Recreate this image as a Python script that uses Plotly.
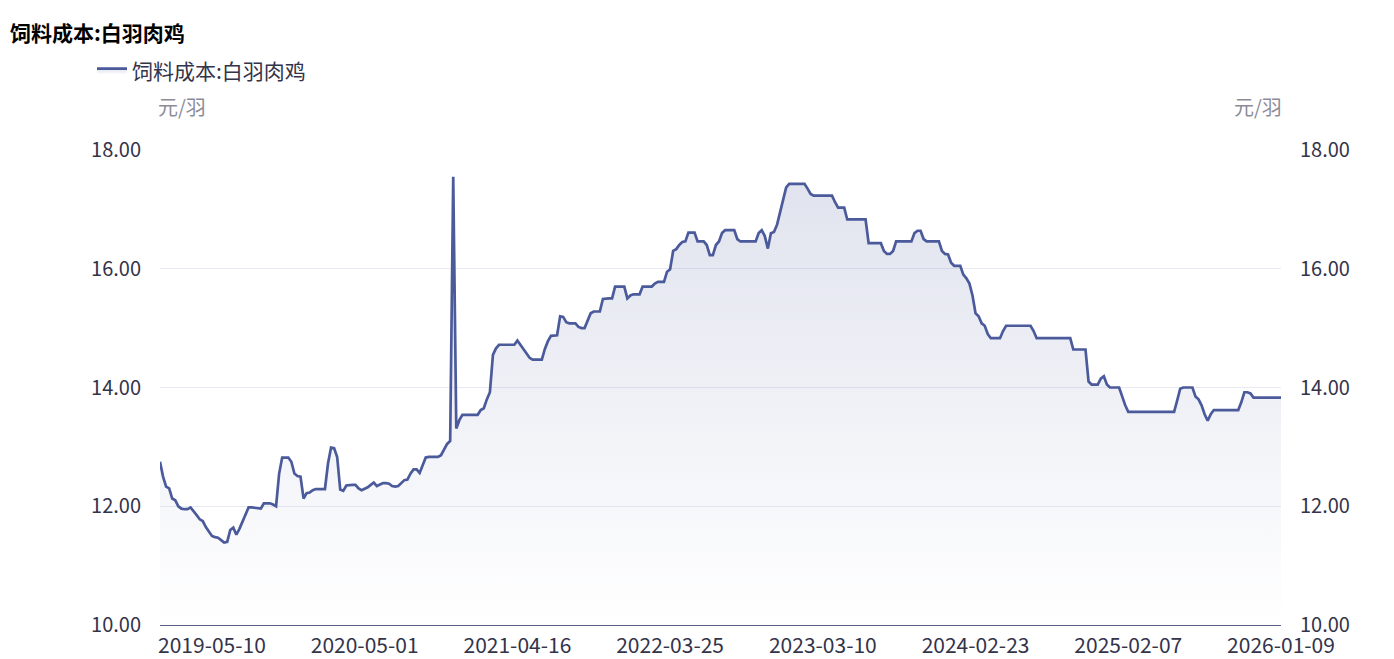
import plotly.graph_objects as go

series_name = "饲料成本:白羽肉鸡"
unit = "元/羽"

feed_cost = [
    12.75, 12.50, 12.33, 12.30, 12.13, 12.10, 12.00, 11.96, 11.95, 11.95,
    11.98, 11.92, 11.85, 11.78, 11.75, 11.65, 11.58, 11.50, 11.48, 11.47,
    11.43, 11.39, 11.40, 11.60, 11.64, 11.52, 11.62, 11.73, 11.85, 11.98,
    11.98, 11.97, 11.96, 11.96, 12.05, 12.05, 12.05, 12.03, 12.00, 12.55,
    12.82, 12.82, 12.82, 12.75, 12.55, 12.51, 12.50, 12.13, 12.22, 12.23,
    12.27, 12.29, 12.29, 12.29, 12.29, 12.72, 12.99, 12.98, 12.83, 12.28,
    12.26, 12.35, 12.36, 12.36, 12.36, 12.30, 12.27, 12.29, 12.32, 12.36,
    12.40, 12.34, 12.37, 12.39, 12.39, 12.38, 12.34, 12.33, 12.34, 12.39,
    12.44, 12.45, 12.55, 12.62, 12.62, 12.56, 12.70, 12.82, 12.83, 12.83,
    12.83, 12.83, 12.86, 12.95, 13.05, 13.10, 17.55, 13.31, 13.45, 13.54,
    13.54, 13.54, 13.54, 13.54, 13.54, 13.62, 13.65, 13.80, 13.92, 14.55,
    14.66, 14.72, 14.72, 14.72, 14.72, 14.72, 14.72, 14.79, 14.72, 14.66,
    14.58, 14.50, 14.47, 14.47, 14.47, 14.47, 14.65, 14.78, 14.87, 14.88,
    14.88, 15.20, 15.19, 15.10, 15.08, 15.08, 15.08, 15.02, 15.00, 15.00,
    15.12, 15.25, 15.28, 15.28, 15.28, 15.49, 15.50, 15.50, 15.50, 15.70,
    15.70, 15.70, 15.70, 15.50, 15.55, 15.57, 15.57, 15.57, 15.70, 15.70,
    15.70, 15.70, 15.75, 15.78, 15.78, 15.78, 15.95, 15.99, 16.30, 16.33,
    16.40, 16.45, 16.46, 16.61, 16.61, 16.61, 16.46, 16.46, 16.46, 16.40,
    16.23, 16.23, 16.40, 16.46, 16.60, 16.65, 16.65, 16.65, 16.65, 16.50,
    16.46, 16.46, 16.46, 16.46, 16.46, 16.46, 16.60, 16.65, 16.55, 16.34,
    16.60, 16.62, 16.74, 16.95, 17.16, 17.37, 17.43, 17.43, 17.43, 17.43,
    17.43, 17.43, 17.35, 17.26, 17.23, 17.23, 17.23, 17.23, 17.23, 17.23,
    17.23, 17.12, 17.03, 17.03, 17.03, 16.83, 16.83, 16.83, 16.83, 16.83,
    16.83, 16.83, 16.43, 16.43, 16.43, 16.43, 16.43, 16.30, 16.25, 16.25,
    16.30, 16.46, 16.46, 16.46, 16.46, 16.46, 16.46, 16.60, 16.64, 16.64,
    16.50, 16.46, 16.46, 16.46, 16.46, 16.46, 16.30, 16.25, 16.24, 16.10,
    16.05, 16.05, 16.05, 15.90, 15.84, 15.75, 15.55, 15.25, 15.20, 15.08,
    15.04, 14.90, 14.83, 14.83, 14.83, 14.83, 14.95, 15.04, 15.04, 15.04,
    15.04, 15.04, 15.04, 15.04, 15.04, 15.04, 14.95, 14.83, 14.83, 14.83,
    14.83, 14.83, 14.83, 14.83, 14.83, 14.83, 14.83, 14.83, 14.83, 14.64,
    14.64, 14.64, 14.64, 14.64, 14.10, 14.05, 14.05, 14.05, 14.15, 14.19,
    14.05, 14.00, 14.00, 14.00, 14.00, 13.85, 13.70, 13.59, 13.59, 13.59,
    13.59, 13.59, 13.59, 13.59, 13.59, 13.59, 13.59, 13.59, 13.59, 13.59,
    13.59, 13.59, 13.59, 13.78, 13.98, 14.00, 14.00, 14.00, 14.00, 13.85,
    13.80, 13.70, 13.55, 13.44, 13.55, 13.62, 13.62, 13.62, 13.62, 13.62,
    13.62, 13.62, 13.62, 13.62, 13.75, 13.92, 13.92, 13.90, 13.83, 13.83,
    13.83, 13.83, 13.83, 13.83, 13.83, 13.83, 13.83, 13.83,
]
week_index = list(range(len(feed_cost)))

tick_positions = [17, 67, 117, 167, 217, 267, 317, 367]
tick_labels = ["2019-05-10", "2020-05-01", "2021-04-16", "2022-03-25",
               "2023-03-10", "2024-02-23", "2025-02-07", "2026-01-09"]
y_ticks = [10, 12, 14, 16, 18]

# ---- styling ----
W, H = 1394, 659
L, R, T, B = 160, 1281, 150, 625
FONT = "Noto Sans CJK SC"
LINE = "#4b5a9b"
TXT = "#33334a"

fig = go.Figure()
fig.add_trace(go.Scatter(
    x=week_index, y=feed_cost, name=series_name, mode="lines",
    line=dict(color=LINE, width=2.7),
    fill="tozeroy",
    fillgradient=dict(type="vertical", start=10, stop=17.5,
                      colorscale=[[0, "rgba(75,90,155,0.0)"],
                                  [1, "rgba(75,90,155,0.17)"]]),
    hoverinfo="skip",
))
fig.add_trace(go.Scatter(
    x=week_index, y=feed_cost, yaxis="y2", mode="lines",
    line=dict(width=0, color="rgba(0,0,0,0)"), showlegend=False,
    hoverinfo="skip",
))

ax_common = dict(range=[10, 18], tickvals=y_ticks, tickformat=".2f",
                 tickfont=dict(family=FONT, size=20, color=TXT),
                 zeroline=False, showline=False, ticks="",
                 ticklabelstandoff=18, automargin=False)

fig.update_layout(
    width=W, height=H,
    margin=dict(l=L, r=W - R, t=T, b=H - B, pad=0, autoexpand=False),
    paper_bgcolor="white", plot_bgcolor="white",
    font=dict(family=FONT, color=TXT),
    title=dict(text="<b>" + series_name + "</b>", x=10 / W, xanchor="left",
               y=1 - 34 / H, yanchor="middle",
               font=dict(family=FONT, size=21, color="#000000")),
    showlegend=True,
    legend=dict(orientation="h", x=(92 - L) / (R - L), xanchor="left",
                y=(B - 71) / (B - T), yanchor="middle",
                font=dict(family=FONT, size=21, color=TXT),
                bgcolor="rgba(0,0,0,0)"),
    xaxis=dict(range=[0, len(feed_cost) - 1], tickvals=tick_positions,
               ticktext=tick_labels, showgrid=False, zeroline=False,
               showline=True, linecolor="#5b6186", linewidth=1.2,
               ticks="", ticklabelstandoff=2, automargin=False,
               tickfont=dict(family=FONT, size=21, color=TXT)),
    yaxis=dict(showgrid=True, gridcolor="#e9e9f5", gridwidth=1, side="left",
               **ax_common),
    yaxis2=dict(overlaying="y", side="right", showgrid=False, **ax_common),
    annotations=[
        dict(text=unit, xref="paper", yref="paper", x=0, xanchor="left",
             xshift=-4, y=(B - 106) / (B - T), yanchor="middle",
             showarrow=False,
             font=dict(family=FONT, size=20, color="#8c8c99")),
        dict(text=unit, xref="paper", yref="paper", x=1, xanchor="right",
             xshift=3, y=(B - 106) / (B - T), yanchor="middle",
             showarrow=False,
             font=dict(family=FONT, size=20, color="#8c8c99")),
    ],
)

fig.write_html("out.html",
               config={"displayModeBar": False},
               post_script="document.body.style.margin='0';"
                           "document.body.style.overflow='hidden';")
